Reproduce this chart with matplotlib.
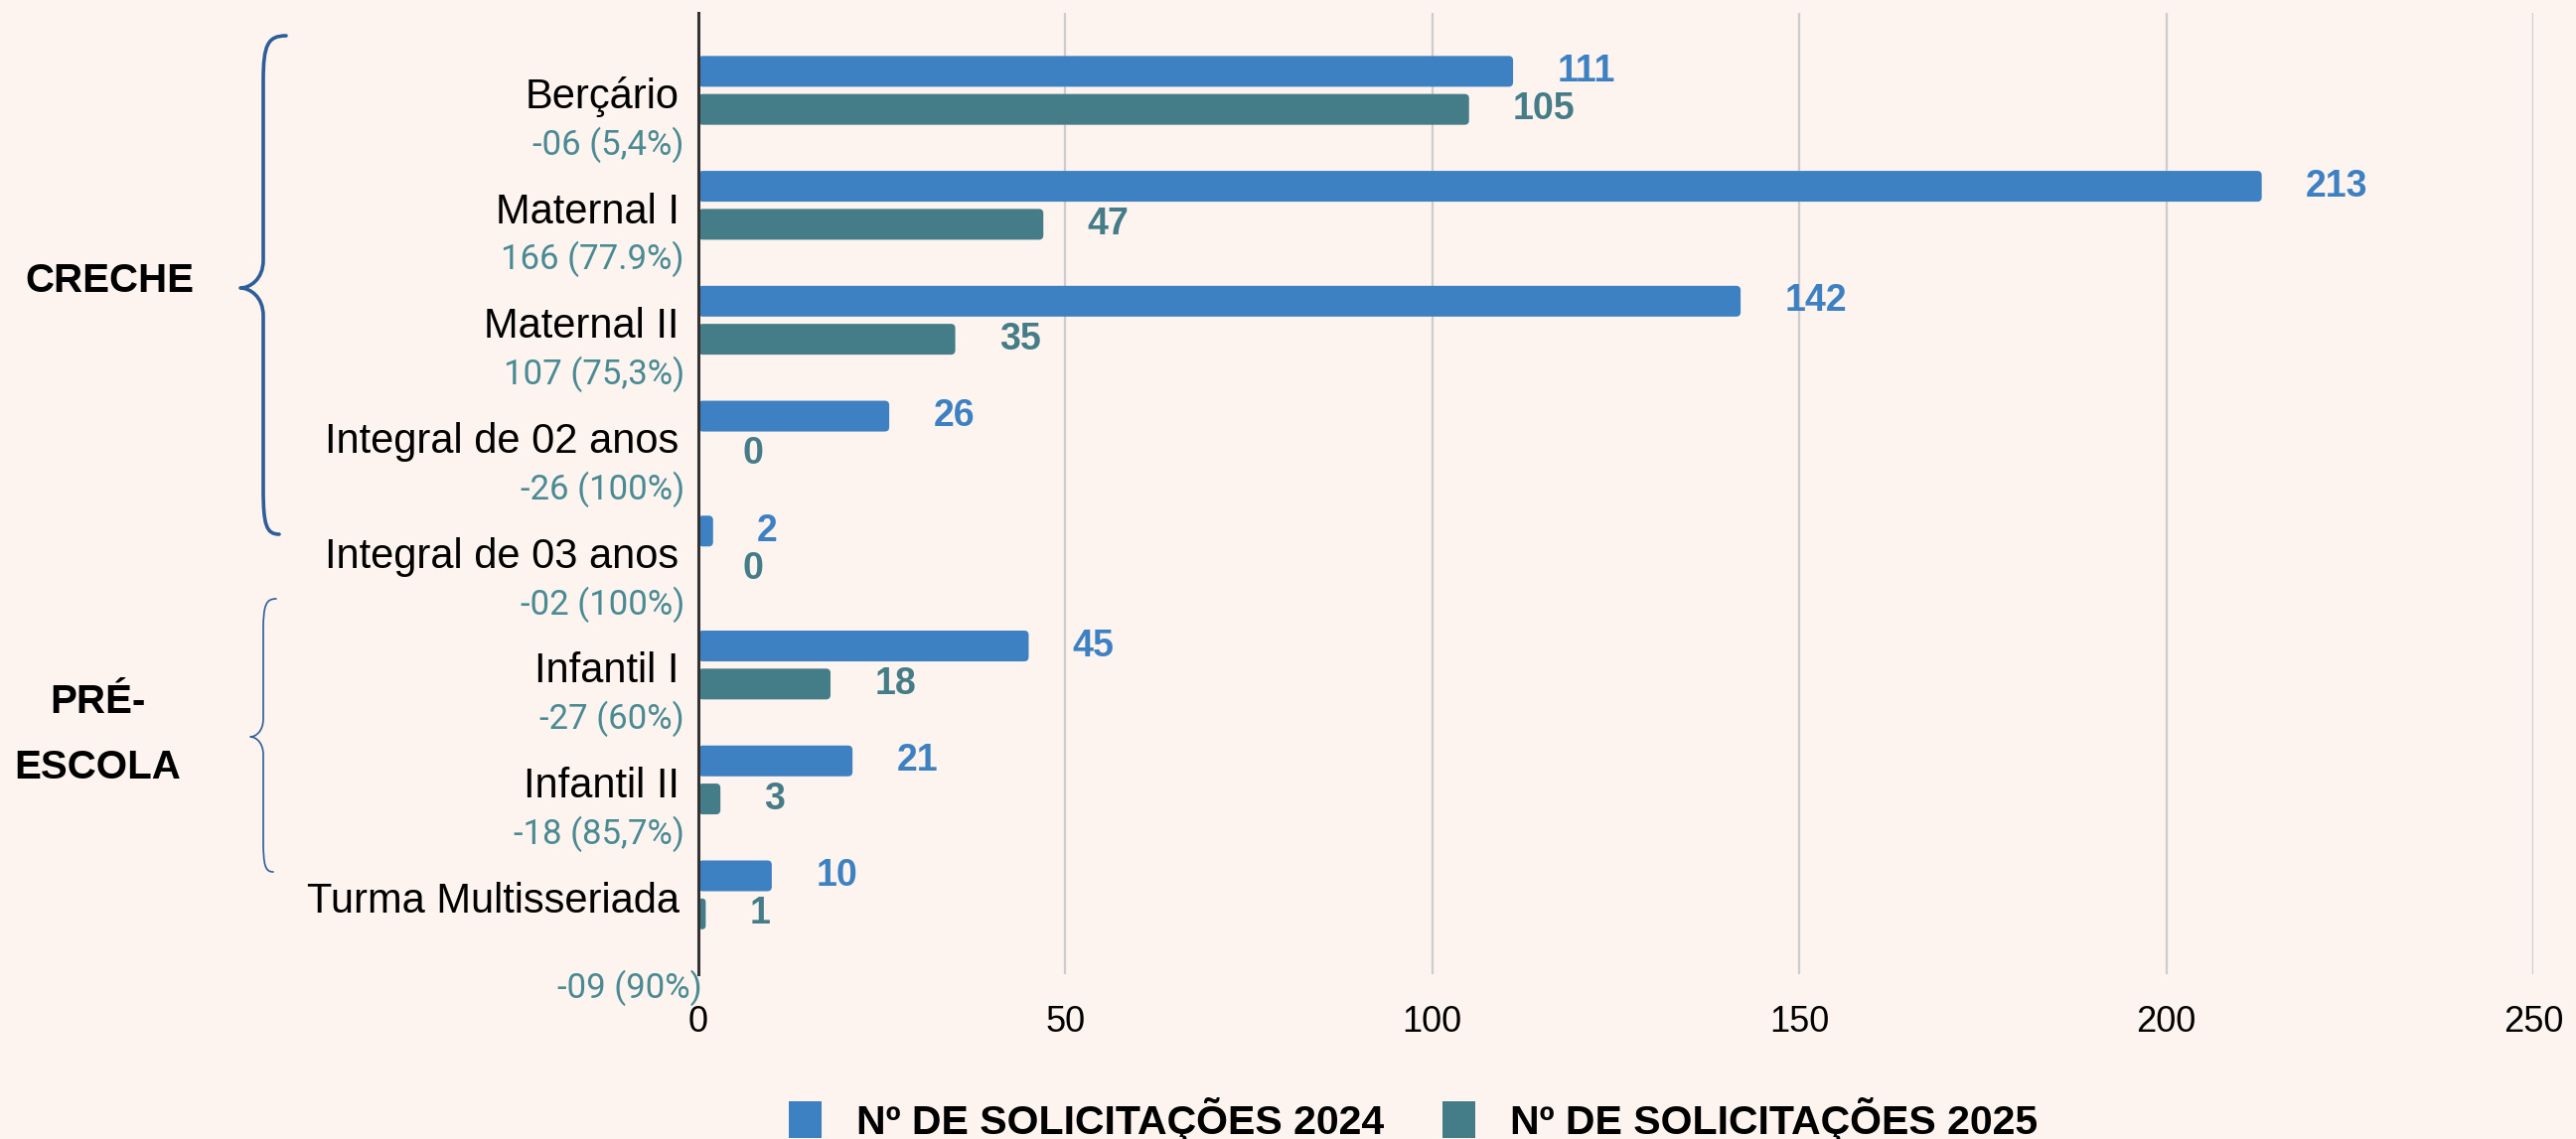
import matplotlib
matplotlib.use("Agg")
import matplotlib.pyplot as plt
from matplotlib.path import Path
from matplotlib.patches import PathPatch, Patch, FancyBboxPatch
import numpy as np

# ---------------- data ----------------
categories = ["Berçário", "Maternal I", "Maternal II", "Integral de 02 anos",
              "Integral de 03 anos", "Infantil I", "Infantil II", "Turma Multisseriada"]
sol_2024 = [111, 213, 142, 26, 2, 45, 21, 10]
sol_2025 = [105, 47, 35, 0, 0, 18, 3, 1]
diff_labels = ["-06 (5,4%)", "166 (77.9%)", "107 (75,3%)", "-26 (100%)",
               "-02 (100%)", "-27 (60%)", "-18 (85,7%)", "-09 (90%)"]
x_ticks = [0, 50, 100, 150, 200, 250]
series_names = ["Nº DE SOLICITAÇÕES 2024", "Nº DE SOLICITAÇÕES 2025"]
group_names = ["CRECHE", "PRÉ-\nESCOLA"]

# ---------------- style ----------------
W, H = 2593, 1147
BG = "#fdf3ef"
BLUE = "#3e81c3"
TEAL = "#447c88"
DIFF = "#4a8a93"
BRACE = "#2e5e9a"
FONT = "Liberation Sans"

fig = plt.figure(figsize=(W / 100, H / 100), dpi=100, facecolor=BG)
ax = fig.add_axes([703 / W, 1 - 981 / H, (2550 - 703) / W, (981 - 13) / H])
ax.set_facecolor(BG)

n = len(categories)
y = np.arange(n)
bh = 0.268
off = 0.1655
ax.set_xlim(0, 250)
ax.set_ylim(7.69, -0.674)

bars_a = ax.barh(y - off, sol_2024, height=bh, color=BLUE, zorder=3)
bars_b = ax.barh(y + off, sol_2025, height=bh, color=TEAL, zorder=3)

# rounded bar ends (same geometry as the bars, just rounded corners)
px_per_x = (2550 - 703) / 250.0
px_per_y = (981 - 13) / (7.69 + 0.674)
rad_px = 4.5
for bars, col in ((bars_a, BLUE), (bars_b, TEAL)):
    for rect in bars:
        w = rect.get_width()
        if w <= 0:
            rect.set_visible(False)
            continue
        r = min(rad_px / px_per_x, w / 2.0)
        fb = FancyBboxPatch((rect.get_x(), rect.get_y()), w, rect.get_height(),
                            boxstyle=f"round,pad=0,rounding_size={r}",
                            mutation_aspect=px_per_x / px_per_y,
                            facecolor=col, edgecolor="none", zorder=3)
        rect.set_visible(False)
        ax.add_patch(fb)

# gridlines / ticks
ax.set_xticks(x_ticks)
ax.set_xticklabels([str(t) for t in x_ticks], fontsize=26, fontfamily=FONT)
ax.tick_params(axis="x", length=0, pad=22)
ax.grid(axis="x", color="#cdcdcd", linewidth=1.6, zorder=0)
for s in ["top", "right", "bottom"]:
    ax.spines[s].set_visible(False)
ax.spines["left"].set_color("#333333")
ax.spines["left"].set_linewidth(2.2)
ax.spines["left"].set_zorder(4)

# category labels
ax.set_yticks(y + 0.02)
ax.set_yticklabels(categories, fontsize=30, fontfamily=FONT)
ax.tick_params(axis="y", length=0, pad=14)

# value labels
for i in range(n):
    ax.text(sol_2024[i] + 6, y[i] - off, str(sol_2024[i]), color=BLUE,
            fontsize=27, fontweight="bold", fontfamily=FONT, va="center", ha="left")
    ax.text(sol_2025[i] + 6, y[i] + off, str(sol_2025[i]), color=TEAL,
            fontsize=27, fontweight="bold", fontfamily=FONT, va="center", ha="left")

# difference labels
for i in range(n):
    last = (i == n - 1)
    dy = 0.81 if last else 0.47
    dx = 4 if last else -14
    ax.annotate(diff_labels[i], xy=(0, y[i] + dy), xycoords="data",
                xytext=(dx, 0), textcoords="offset pixels",
                ha="right", va="center", fontsize=25, color=DIFF,
                fontfamily="Roboto", annotation_clip=False)

# ---------------- overlay for braces and group labels ----------------
ov = fig.add_axes([0, 0, 1, 1], facecolor="none")
ov.set_xlim(0, W)
ov.set_ylim(H, 0)
ov.axis("off")


def brace(x_top, x_bot, xv, x_tip, y_top, y_mid, y_bot, r, r2, lw):
    verts = [
        (x_top, y_top),
        (xv + (x_top - xv) * 0.2, y_top), (xv, y_top + r * 0.2), (xv, y_top + r),
        (xv, y_mid - r2),
        (xv, y_mid - r2 * 0.3), (x_tip + (xv - x_tip) * 0.4, y_mid), (x_tip, y_mid),
        (x_tip + (xv - x_tip) * 0.4, y_mid), (xv, y_mid + r2 * 0.3), (xv, y_mid + r2),
        (xv, y_bot - r),
        (xv, y_bot - r * 0.2), (xv + (x_bot - xv) * 0.2, y_bot), (x_bot, y_bot),
    ]
    codes = [Path.MOVETO,
             Path.CURVE4, Path.CURVE4, Path.CURVE4,
             Path.LINETO,
             Path.CURVE4, Path.CURVE4, Path.CURVE4,
             Path.CURVE4, Path.CURVE4, Path.CURVE4,
             Path.LINETO,
             Path.CURVE4, Path.CURVE4, Path.CURVE4]
    ov.add_patch(PathPatch(Path(verts, codes), fill=False, edgecolor=BRACE,
                           linewidth=lw, capstyle="round", joinstyle="round"))


brace(288, 281, 265, 242, 36, 290, 538, 45, 28, 2.6)
brace(278, 275, 265, 252, 603, 742, 878, 32, 18, 1.2)

ov.text(110, 283, group_names[0], ha="center", va="center", fontsize=29,
        fontweight="bold", fontfamily=FONT)
ov.text(98, 740, group_names[1], ha="center", va="center", fontsize=29,
        fontweight="bold", fontfamily=FONT, linespacing=1.95)

# ---------------- legend ----------------
handles = [Patch(facecolor=BLUE, edgecolor="none"), Patch(facecolor=TEAL, edgecolor="none")]
fig.legend(handles, series_names, loc="center left",
           bbox_to_anchor=(794 / W, 1 - 1127 / H), ncol=2, frameon=False,
           prop={"family": FONT, "weight": "bold", "size": 29.5},
           handlelength=0.8, handleheight=1.0, handletextpad=0.85,
           columnspacing=1.45, borderpad=0, borderaxespad=0)

fig.savefig("out.png", dpi=100, facecolor=BG)
